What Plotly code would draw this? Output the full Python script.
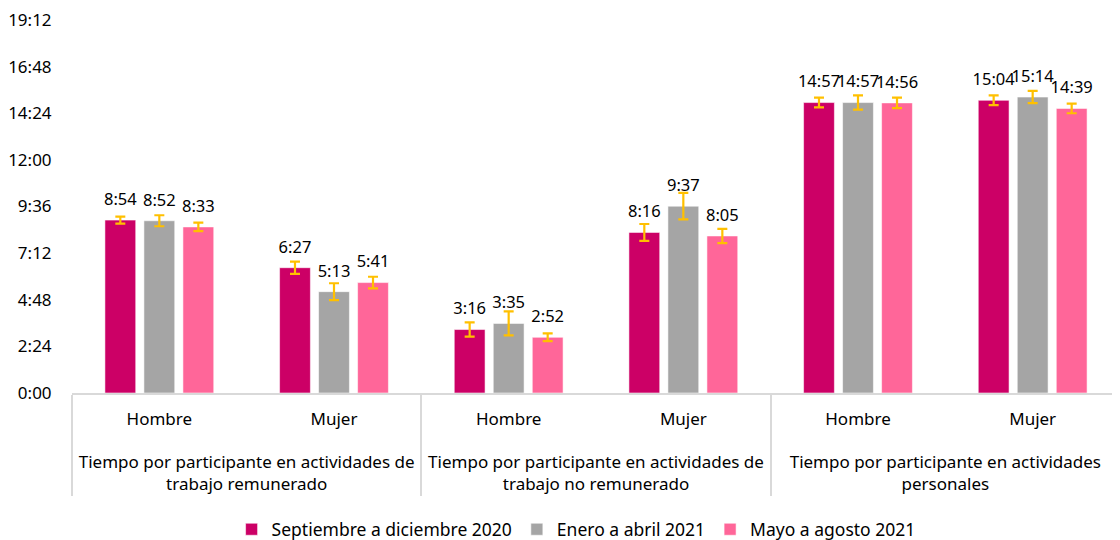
import plotly.graph_objects as go

groups = [
    "Tiempo por participante en actividades de<br>trabajo remunerado",
    "Tiempo por participante en actividades de<br>trabajo no remunerado",
    "Tiempo por participante en actividades<br>personales",
]
sexes = ["Hombre", "Mujer"]

series_names = ["Septiembre a diciembre 2020", "Enero a abril 2021", "Mayo a agosto 2021"]
series_colors = ["#CC0066", "#A5A5A5", "#FF6699"]

sept = ["8:54", "6:27", "3:16", "8:16", "14:57", "15:04"]
ene = ["8:52", "5:13", "3:35", "9:37", "14:57", "15:14"]
mayo = ["8:33", "5:41", "2:52", "8:05", "14:56", "14:39"]

# error margins in minutes (estimated)
err_sept = [11, 19, 22, 26, 15, 15]
err_ene = [17, 26, 37, 41, 22, 19]
err_mayo = [13, 18, 12, 22, 16, 15]

tick_labels = ["0:00", "2:24", "4:48", "7:12", "9:36", "12:00", "14:24", "16:48", "19:12"]


def to_min(s):
    h, m = s.split(":")
    return int(h) * 60 + int(m)


tick_vals = [to_min(t) for t in tick_labels]

x_groups = [g for g in groups for _ in sexes]
# trailing blank line adds room between the two label rows
x_sexes = [s + "<br><span style='font-size:36px'> </span>" for _ in groups for s in sexes]
x = [x_groups, x_sexes]

FONT = "Noto Sans"

fig = go.Figure()
all_vals = [sept, ene, mayo]
all_errs = [err_sept, err_ene, err_mayo]
for i, (name, col, vals, errs) in enumerate(zip(series_names, series_colors, all_vals, all_errs)):
    mins = [to_min(v) for v in vals]
    fig.add_trace(go.Bar(
        x=x, y=mins, name=name, offsetgroup=str(i),
        marker=dict(color=col, line=dict(color="rgba(255,255,255,0.55)", width=1)),
        error_y=dict(type="data", array=errs, visible=True, color="#FFC000",
                     thickness=2.2, width=5),
        hoverinfo="skip",
    ))
for i, (vals) in enumerate(all_vals):
    mins = [to_min(v) for v in vals]
    fig.add_trace(go.Scatter(
        x=x, y=mins, mode="markers+text", text=vals, textposition="top center",
        offsetgroup=str(i), showlegend=False, cliponaxis=False,
        marker=dict(size=16, color="rgba(0,0,0,0)"),
        textfont=dict(family=FONT, size=16.5, color="#000000"),
        hoverinfo="skip",
    ))

# the page body has an 8px margin, so the figure is sized to fit the window
fig.update_layout(
    width=1112, height=532,
    barmode="group", scattermode="group",
    bargap=0.33, bargroupgap=0.21,
    plot_bgcolor="white", paper_bgcolor="white",
    margin=dict(l=64, r=0, t=12, b=147, autoexpand=False),
    font=dict(family=FONT, size=16, color="#000000"),
    legend=dict(orientation="h", x=0.481, xanchor="center",
                yref="container", y=0.02, yanchor="middle",
                font=dict(family=FONT, size=17.5, color="#000000"),
                itemwidth=30, traceorder="normal"),
    showlegend=True,
)
fig.update_yaxes(range=[0, 1152], tickvals=tick_vals, ticktext=tick_labels,
                 showgrid=False, zeroline=False, showline=False, automargin=False,
                 ticklabeloverflow="allow",
                 ticks="outside", ticklen=16, tickcolor="rgba(0,0,0,0)",
                 tickfont=dict(family=FONT, size=17, color="#000000"))
fig.update_xaxes(type="multicategory", showline=True, linecolor="#D9D9D9", linewidth=1.5,
                 showdividers=True, dividercolor="#D9D9D9", dividerwidth=1.5,
                 showgrid=False, automargin=False,
                 ticks="outside", ticklen=22, tickcolor="rgba(0,0,0,0)",
                 ticklabelstandoff=10,
                 tickfont=dict(family=FONT, size=17, color="#000000"))

fig.write_html("out.html")
